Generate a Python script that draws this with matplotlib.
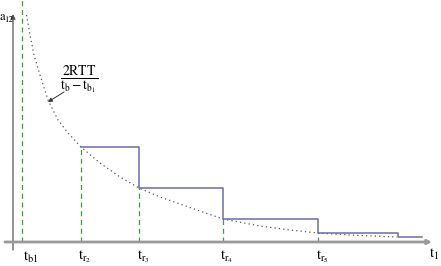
import numpy as np
from matplotlib import pyplot as plt

plt.rcParams['mathtext.fontset'] = 'stix'
plt.rcParams['font.family'] = 'STIXGeneral'

# event times (t_b1, t_r2 .. t_r5) and the end of the last step
t_b1 = 9
t_r = [68, 126, 210, 305]
t_r_labels = [r'$\mathrm{t}_{\mathrm{r}_2}$', r'$\mathrm{t}_{\mathrm{r}_3}$',
              r'$\mathrm{t}_{\mathrm{r}_4}$', r'$\mathrm{t}_{\mathrm{r}_5}$']
t_last = [385, 409]
rate_levels = [95, 54, 23, 9, 5, 5]

# 2RTT / (t_b - t_b1) curve
curve_t = [13.5, 17, 21, 27, 35, 45, 55, 68, 87, 107, 126, 147, 167, 187,
           210, 247, 277, 305, 347, 384]
curve_a = [227, 207, 187, 167, 142, 122, 109, 95, 79, 65, 54, 45, 38, 31,
           23, 16, 12, 9, 6.5, 5]

fig = plt.figure(figsize=(4.41, 2.66), dpi=100)
ax = fig.add_axes([0, 0, 1, 1])
ax.set_xlim(-13, 428)
ax.set_ylim(-24, 242)
ax.axis('off')

# axes with arrows
ax.annotate('', xy=(0, 228), xytext=(0, -8),
            arrowprops=dict(arrowstyle='-|>', color='#555555', lw=0.9,
                            mutation_scale=7, shrinkA=0, shrinkB=0))
ax.annotate('', xy=(419, 0), xytext=(-8, 0),
            arrowprops=dict(arrowstyle='-|>', color='#9a9a9a', lw=2.0,
                            mutation_scale=6, shrinkA=0, shrinkB=0))

green = '#3f9a3f'
ax.plot([t_b1, t_b1], [0, 242], color=green, ls=(0, (4, 3)), lw=0.9)
for t, a in zip(t_r, rate_levels):
    ax.plot([t, t], [0, a], color=green, ls=(0, (4, 3)), lw=0.9)

ax.plot(curve_t, curve_a, color='#555555', ls=(0, (1, 2.5)), lw=0.9)

steps_t = t_r + t_last
ax.plot(steps_t, rate_levels, drawstyle='steps-post', color='#6b6bb0', lw=1.1)

# labels
fs = 10.5
ax.text(-13, 225, 'a', fontsize=9, ha='left', va='center')
ax.text(-8.9, 221.5, '12', fontsize=6.5, ha='left', va='center')
ax.text(t_b1 + 9, -15, r'$\mathrm{t}_{\mathrm{b}1}$', fontsize=fs, ha='center', va='center')
for t, lab in zip(t_r, t_r_labels):
    ax.text(t + 4, -15, lab, fontsize=fs, ha='center', va='center')
ax.text(421, -12, r'$\mathrm{t}_1$', fontsize=fs, ha='center', va='center')

ax.text(66, 162, r'$\frac{\mathrm{2RTT}}{\mathrm{t_b - t_{b_1}}}$', fontsize=14,
        ha='center', va='center')
ax.annotate('', xy=(35, 140), xytext=(51, 150),
            arrowprops=dict(arrowstyle='-|>', color='#333333', lw=0.7,
                            mutation_scale=6, shrinkA=0, shrinkB=0))

plt.savefig('out.png', dpi=100)
